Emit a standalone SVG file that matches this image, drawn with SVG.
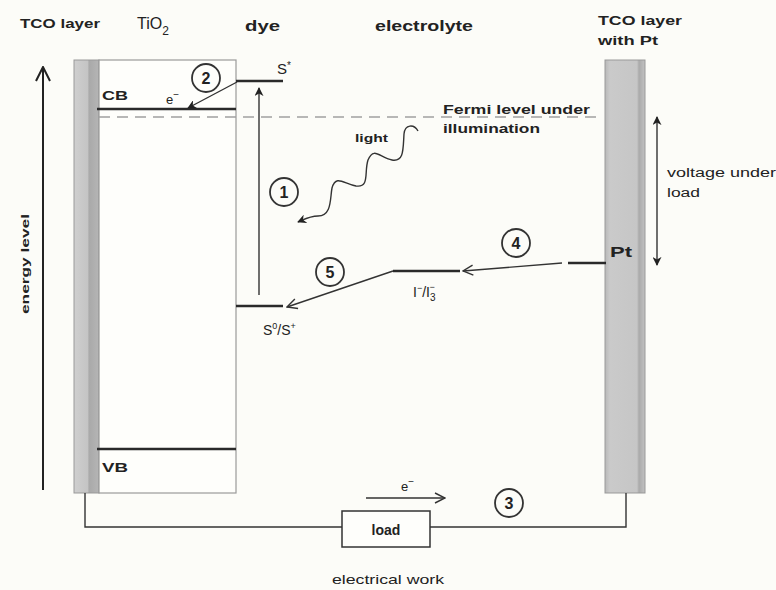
<svg xmlns="http://www.w3.org/2000/svg" width="776" height="590" viewBox="0 0 776 590">
<defs>
<style>
text{font-family:"Liberation Sans",Arial,sans-serif;fill:#222}
.b{font-weight:bold}
.lvl{stroke:#2a2a2a;stroke-width:2.6;fill:none}
.ln{stroke:#333;stroke-width:1.4;fill:none}
.circ{fill:none;stroke:#333;stroke-width:1.8}
.num{font-size:16px;text-anchor:middle;font-weight:bold}
</style>
<marker id="af" viewBox="0 0 10 10" refX="9" refY="5" markerWidth="9" markerHeight="9" markerUnits="userSpaceOnUse" orient="auto">
<path d="M0,0 L10,5 L0,10 L3,5 Z" fill="#222"/>
</marker>
<marker id="ao" viewBox="0 0 12 12" refX="11" refY="6" markerWidth="12" markerHeight="12" markerUnits="userSpaceOnUse" orient="auto">
<path d="M1,1 L11,6 L1,11" fill="none" stroke="#333" stroke-width="1.4"/>
</marker>
<marker id="ae" viewBox="0 0 16 16" refX="15" refY="8" markerWidth="16" markerHeight="16" markerUnits="userSpaceOnUse" orient="auto">
<path d="M1,1 L15,8 L1,15" fill="none" stroke="#222" stroke-width="2"/>
</marker>
<linearGradient id="gl" x1="0" x2="1" y1="0" y2="0">
<stop offset="0" stop-color="#cfcfcf"/><stop offset="0.55" stop-color="#c4c4c4"/><stop offset="0.6" stop-color="#a9a9a9"/><stop offset="1" stop-color="#b5b5b5"/>
</linearGradient>
<linearGradient id="gr" x1="0" x2="1" y1="0" y2="0">
<stop offset="0" stop-color="#b8b8b8"/><stop offset="0.12" stop-color="#cacaca"/><stop offset="0.8" stop-color="#c6c6c6"/><stop offset="0.85" stop-color="#aaaaaa"/><stop offset="1" stop-color="#c2c2c2"/>
</linearGradient>
</defs>
<rect width="776" height="590" fill="#fcfcf8"/>

<g id="header-labels">
<text x="20" y="28" class="b" font-size="12" textLength="80" lengthAdjust="spacingAndGlyphs">TCO layer</text>
<text x="137" y="29" font-size="16">TiO<tspan dy="6" font-size="12">2</tspan></text>
<text x="245" y="31" class="b" font-size="15" textLength="35" lengthAdjust="spacingAndGlyphs">dye</text>
<text x="375" y="31" class="b" font-size="15" textLength="98" lengthAdjust="spacingAndGlyphs">electrolyte</text>
</g>

<g id="energy-axis">
<line x1="43" y1="490" x2="43" y2="67" stroke="#222" stroke-width="2" marker-end="url(#ae)"/>
<text transform="translate(29,264) rotate(-90)" class="b" font-size="11" text-anchor="middle" textLength="100" lengthAdjust="spacingAndGlyphs">energy level</text>
</g>

<g id="tco-left">
<rect x="74" y="60" width="25" height="433" fill="url(#gl)" stroke="#999" stroke-width="1"/>
</g>

<g id="tio2">
<rect x="99" y="60" width="137" height="433" fill="#fefefb" stroke="#9a9a9a" stroke-width="1.2"/>
<line class="lvl" x1="97" y1="109" x2="236" y2="109"/>
<text x="102" y="100" class="b" font-size="13" textLength="26" lengthAdjust="spacingAndGlyphs">CB</text>
<text x="166" y="104" font-size="13">e<tspan dy="-6" font-size="10">−</tspan></text>
<line class="lvl" x1="97" y1="449" x2="236" y2="449"/>
<text x="102" y="472" class="b" font-size="13" textLength="26" lengthAdjust="spacingAndGlyphs">VB</text>
</g>

<g id="fermi">
<line x1="99" y1="117" x2="596" y2="117" stroke="#a0a0a0" stroke-width="1.6" stroke-dasharray="11 7"/>
<text x="443" y="114" class="b" font-size="13" textLength="147" lengthAdjust="spacingAndGlyphs">Fermi level under</text>
<text x="443" y="133" class="b" font-size="13" textLength="97" lengthAdjust="spacingAndGlyphs">illumination</text>
</g>

<g id="dye">
<line class="lvl" x1="236" y1="81" x2="283" y2="81"/>
<text x="277" y="74" font-size="15">S<tspan dy="-5" font-size="10">*</tspan></text>
<line class="lvl" x1="236" y1="306" x2="283" y2="306"/>
<text x="263" y="335" font-size="14">S<tspan dy="-6" font-size="9">0</tspan><tspan dy="6">/S</tspan><tspan dy="-6" font-size="9">+</tspan></text>
</g>

<g id="light">
<text x="355" y="142" class="b" font-size="11" textLength="33" lengthAdjust="spacingAndGlyphs">light</text>
</g>

<g id="redox">
<line class="lvl" x1="393" y1="271" x2="460" y2="271" stroke-width="3"/>
<text x="413" y="297" font-size="14">I<tspan dy="-6" font-size="9">−</tspan><tspan dy="6">/I</tspan><tspan dy="4" font-size="10">3</tspan><tspan dx="-6" dy="-11" font-size="9">−</tspan></text>
</g>

<g id="tco-right">
<rect x="605" y="60" width="40" height="433" fill="url(#gr)" stroke="#999" stroke-width="1"/>
<text x="598" y="25" class="b" font-size="12" textLength="84" lengthAdjust="spacingAndGlyphs">TCO layer</text>
<text x="598" y="45" class="b" font-size="12" textLength="60" lengthAdjust="spacingAndGlyphs">with Pt</text>
<line class="lvl" x1="568" y1="263" x2="606" y2="263" stroke-width="3"/>
<text x="610" y="257" class="b" font-size="14" textLength="22" lengthAdjust="spacingAndGlyphs">Pt</text>
</g>

<g id="voltage">
<line x1="657" y1="190" x2="657" y2="117" class="ln" marker-end="url(#af)"/>
<line x1="657" y1="190" x2="657" y2="265" class="ln" marker-end="url(#af)"/>
<text x="667" y="177" font-size="12" textLength="109" lengthAdjust="spacingAndGlyphs">voltage under</text>
<text x="667" y="197" font-size="12" textLength="33" lengthAdjust="spacingAndGlyphs">load</text>
</g>

<g id="load">
<rect x="342" y="511" width="88" height="36" fill="#fefefb" stroke="#333" stroke-width="1.5"/>
<text x="386" y="535" class="b" font-size="14" text-anchor="middle">load</text>
<text x="388" y="584" font-size="13" text-anchor="middle" textLength="112" lengthAdjust="spacingAndGlyphs">electrical work</text>
<text x="401" y="491" font-size="13">e<tspan dy="-6" font-size="10">−</tspan></text>
</g>

<g id="steps">
<circle class="circ" cx="206" cy="78" r="14"/><text class="num" x="206" y="84">2</text>
<circle class="circ" cx="284" cy="192" r="14"/><text class="num" x="284" y="198">1</text>
<circle class="circ" cx="330" cy="272" r="14"/><text class="num" x="330" y="278">5</text>
<circle class="circ" cx="516" cy="243" r="14"/><text class="num" x="516" y="249">4</text>
<circle class="circ" cx="509" cy="503" r="14"/><text class="num" x="509" y="509">3</text>
</g>

<g id="connectors">
<line x1="259" y1="295" x2="259" y2="88" class="ln" marker-end="url(#af)"/>
<line x1="237" y1="82" x2="188" y2="108" class="ln" marker-end="url(#af)"/>
<path d="M418 131 C414 124,405 124,404 134 C403 150,404 162,392 160 C380 158,374 146,368 160 C364 172,370 188,356 186 C344 184,336 174,332 188 C330 198,332 216,318 216 C310 216,305 219,298 222" class="ln" stroke-width="1.6" marker-end="url(#af)"/>
<line x1="562" y1="263" x2="463" y2="271" class="ln" marker-end="url(#ao)"/>
<line x1="393" y1="271" x2="287" y2="307" class="ln" marker-end="url(#ao)"/>
<polyline points="85,493 85,527 342,527" class="ln" stroke-width="1.5"/>
<polyline points="430,527 626,527 626,493" class="ln" stroke-width="1.5"/>
<line x1="366" y1="498" x2="445" y2="498" class="ln" marker-end="url(#ao)"/>
</g>
</svg>
